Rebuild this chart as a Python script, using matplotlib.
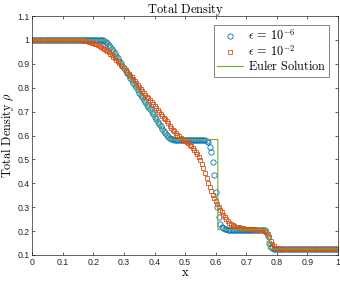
import numpy as np
import matplotlib
matplotlib.use("Agg")
from matplotlib import pyplot as plt

# grid of the numerical solutions (200 cells, step 0.005)
x = np.linspace(0.0, 1.0, 201)

# epsilon = 1e-6
rho_small = ([1.0] * 46 +
             [0.999, 0.997, 0.993, 0.987, 0.979, 0.971, 0.963, 0.954, 0.944, 0.933,
              0.923, 0.913, 0.903, 0.893, 0.882, 0.872, 0.862, 0.852, 0.842, 0.831,
              0.821, 0.811, 0.801, 0.791, 0.780, 0.770, 0.760, 0.750, 0.740, 0.729,
              0.719, 0.709, 0.699, 0.689, 0.678, 0.668, 0.658, 0.648, 0.638, 0.628,
              0.618, 0.609, 0.601, 0.594, 0.589, 0.586, 0.584, 0.583] +
             [0.583] * 18 +
             [0.582, 0.581, 0.578, 0.573, 0.552, 0.532, 0.490, 0.434, 0.364, 0.301,
              0.259, 0.231, 0.217, 0.211, 0.208, 0.207] +
             [0.206] * 24 +
             [0.204, 0.197, 0.178, 0.150, 0.133, 0.127, 0.125])
rho_small += [0.125] * (201 - len(rho_small))

# epsilon = 1e-2
rho_big = ([1.0] * 31 +
           [0.999, 0.999, 0.998, 0.997, 0.996, 0.995, 0.993, 0.991, 0.989, 0.987,
            0.984, 0.981, 0.978, 0.975, 0.971, 0.967, 0.963, 0.958, 0.953, 0.948,
            0.942, 0.936, 0.930, 0.924, 0.917, 0.910, 0.903, 0.896, 0.889, 0.882,
            0.874, 0.866, 0.858, 0.851, 0.843, 0.835, 0.827, 0.819, 0.811, 0.803,
            0.795, 0.787, 0.779, 0.771, 0.763, 0.755, 0.747, 0.739, 0.731, 0.723,
            0.715, 0.707, 0.699, 0.691, 0.683, 0.675, 0.667, 0.659, 0.651,
            0.640, 0.632, 0.625, 0.617, 0.610, 0.603, 0.597, 0.591, 0.586, 0.581,
            0.577, 0.572, 0.567, 0.561, 0.555, 0.548, 0.540, 0.532, 0.522, 0.511,
            0.498, 0.481, 0.462, 0.441, 0.420, 0.401, 0.383, 0.367, 0.352, 0.339,
            0.326, 0.314, 0.302, 0.290, 0.278, 0.267, 0.257, 0.249, 0.241, 0.235,
            0.230, 0.226, 0.222, 0.219, 0.217, 0.215, 0.213, 0.212, 0.211, 0.210,
            0.209, 0.209, 0.208, 0.208, 0.207, 0.207, 0.206, 0.206, 0.206, 0.205,
            0.205, 0.204, 0.201, 0.196, 0.187, 0.174, 0.160, 0.147, 0.137, 0.131,
            0.128, 0.126, 0.125])
rho_big += [0.125] * (201 - len(rho_big))

# exact Euler solution
x_euler = [0.0, 0.243, 0.29, 0.34, 0.39, 0.447, 0.607, 0.607, 0.772, 0.772, 1.0]
rho_euler = [1.0, 1.0, 0.905, 0.80, 0.698, 0.583, 0.583, 0.206, 0.206, 0.125, 0.125]

plt.rcParams['mathtext.fontset'] = 'cm'
plt.rcParams['font.family'] = 'Liberation Sans'
plt.rcParams['axes.unicode_minus'] = False

ax_col = '#262626'
fig = plt.figure(figsize=(3.4, 2.82), dpi=100)
ax = fig.add_axes([0.095, 0.096, 0.899, 0.847])

ax.plot(x, rho_small, 'o', ms=3.8, mfc='none', mec='#0072BD', mew=0.6,
        label=r'$\epsilon\,=\,10^{-6}$')
ax.plot(x, rho_big, 's', ms=3.2, mfc='none', mec='#D95319', mew=0.6,
        label=r'$\epsilon\,=\,10^{-2}$')
ax.plot(x_euler, rho_euler, '-', color='#77AC30', lw=0.8,
        label=r'$\mathrm{Euler\ Solution}$')

ax.set_xlim(0, 1)
ax.set_ylim(0.1, 1.1)
ax.set_xticks(np.arange(0, 1.01, 0.1))
ax.set_yticks(np.arange(0.1, 1.11, 0.1))
ax.set_xticklabels(['0', '0.1', '0.2', '0.3', '0.4', '0.5', '0.6', '0.7', '0.8', '0.9', '1'])
ax.set_yticklabels(['0.1', '0.2', '0.3', '0.4', '0.5', '0.6', '0.7', '0.8', '0.9', '1', '1.1'])
ax.tick_params(direction='in', length=2.5, width=0.5, labelsize=6.3, colors=ax_col,
               top=True, right=True, pad=2)
for s in ax.spines.values():
    s.set_linewidth(0.5)
    s.set_color(ax_col)

ax.set_title(r'$\mathrm{Total\ Density}$', fontsize=9, pad=2, color='k')
ax.set_xlabel(r'$\mathrm{x}$', fontsize=9, labelpad=0)
ax.set_ylabel(r'$\mathrm{Total\ Density}\ \rho$', fontsize=8.8, labelpad=0.5)

leg = ax.legend(loc='upper right', fontsize=8.8, frameon=True, fancybox=False,
                edgecolor=ax_col, borderpad=0.25, handlelength=2.1, handletextpad=0.4,
                labelspacing=0.05, borderaxespad=0.75)
leg.get_frame().set_linewidth(0.5)

fig.savefig('out.png', dpi=100)
